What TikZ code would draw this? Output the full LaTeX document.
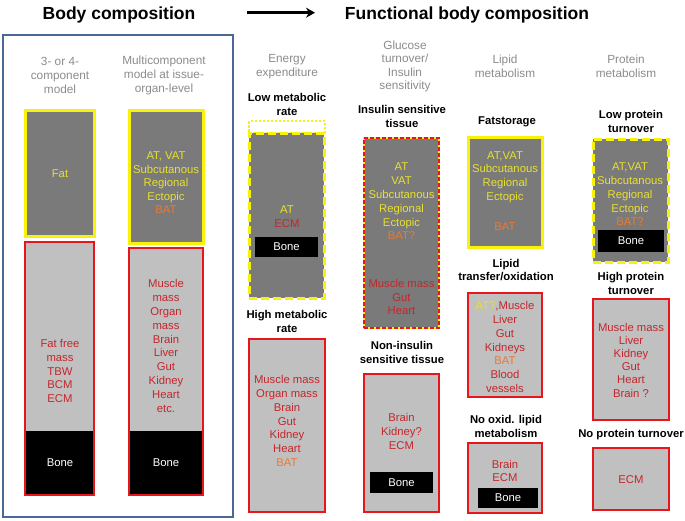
\documentclass[tikz,border=0pt]{standalone}
\usepackage{fontspec}
\setmainfont{Liberation Sans}
\usetikzlibrary{arrows.meta}
\definecolor{yelb}{RGB}{248,242,10}
\definecolor{yelt}{RGB}{232,224,48}
\definecolor{redb}{RGB}{232,22,28}
\definecolor{redt}{RGB}{196,38,44}
\definecolor{orng}{RGB}{232,122,52}
\definecolor{dgray}{RGB}{122,122,122}
\definecolor{lgray}{RGB}{192,192,192}
\definecolor{hgray}{RGB}{140,140,140}
\definecolor{frameblue}{RGB}{74,104,150}
\begin{document}
\begin{tikzpicture}[x=1pt,y=-1pt,
  title/.style={font=\fontsize{17.5}{20}\selectfont\bfseries, inner sep=0},
  gtxt/.style={font=\fontsize{11.8}{13.6}\selectfont, text=hgray, align=center, inner sep=0},
  stxt/.style={font=\fontsize{11.3}{13.2}\selectfont\bfseries, text=black, align=center, inner sep=0},
  btxt/.style={font=\fontsize{11.3}{13.8}\selectfont, align=center, inner sep=0},
  ytxt/.style={btxt, text=yelt},
  rtxt/.style={btxt, text=redt},
  fatbox/.style={draw=yelb, line width=3pt, fill=dgray, inner sep=0},
  fatdash/.style={fatbox, dash pattern=on 8pt off 4pt},
  thindash/.style={draw=yelb, line width=1.5pt, dash pattern=on 2.5pt off 1.5pt, inner sep=0},
  ffmbox/.style={draw=redb, line width=2.6pt, fill=lgray, inner sep=0},
  mixbox/.style={draw=yelb, line width=2.6pt, fill=dgray, inner sep=0,
     postaction={draw=redb, line width=2pt, dash pattern=on 4pt off 2pt}},
  bonebox/.style={fill=black, text=white, font=\fontsize{11.3}{13.8}\selectfont, inner sep=0},
  bonebottom/.style={path picture={\fill[black] (path picture bounding box.south west) rectangle ([yshift=#1]path picture bounding box.south east);}},
  frame/.style={draw=frameblue, line width=1.5pt, inner sep=0}
]
\useasboundingbox[fill=white] (0,0) rectangle (685,520);

% titles
\node[title, anchor=base] (t1) at (119,19) {Body composition};
\node[title, anchor=base] (t2) at (467,19) {Functional body composition};
\coordinate (a1) at (247,12.7);
\coordinate (a2) at (315,12.7);
\draw[line width=2.6pt, -{Stealth[length=9pt,width=10pt]}] (a1) -- (a2);

% frame
\node[frame, minimum width=230pt, minimum height=482pt] (bc) at (118,276) {};

% column 1
\node[gtxt] (h1) at (60,75.5) {3- or 4-\\component\\model};
\node[fatbox, minimum width=69pt, minimum height=126pt] (f1) at (59.5,173) {};
\node[ytxt] (f1t) at (60,174) {Fat};
\node[ffmbox, bonebottom=64pt, minimum width=69pt, minimum height=253pt] (m1) at (59.5,368.5) {};
\node[rtxt] (m1t) at (60,371) {Fat free\\mass\\TBW\\BCM\\ECM};
\node[btxt, text=white] (m1b) at (60,463) {Bone};

% column 2
\node[gtxt] (h2) at (164,75.5) {Multicomponent\\model at issue-\\organ-level};
\node[fatbox, minimum width=74pt, minimum height=133pt] (f2) at (166,176.5) {};
\node[ytxt, font=\fontsize{11.3}{13.5}\selectfont] (f2t) at (166,183) {AT, VAT\\Subcutanous\\Regional\\Ectopic\\\textcolor{orng}{BAT}};
\node[ffmbox, bonebottom=64pt, minimum width=74pt, minimum height=247pt] (m2) at (166,371.5) {};
\node[rtxt, font=\fontsize{11.3}{13.9}\selectfont] (m2t) at (166,346) {Muscle\\mass\\Organ\\mass\\Brain\\Liver\\Gut\\Kidney\\Heart\\etc.};
\node[btxt, text=white] (m2b) at (166,463) {Bone};

% column 3: energy expenditure
\node[gtxt] (h3) at (287,66.5) {Energy\\expenditure};
\node[stxt] (s3a) at (287,104.5) {Low metabolic\\rate};
\node[thindash, minimum width=76pt, minimum height=12pt] (e0) at (287,127) {};
\node[fatdash, minimum width=75pt, minimum height=165pt] (e1) at (286.5,215.5) {};
\node[rtxt] (e1t) at (287,217) {\textcolor{yelt}{AT}\\ECM};
\node[bonebox, minimum width=63pt, minimum height=20pt] (e1b) at (286.5,247) {Bone};
\node[stxt] (s3b) at (287,321.5) {High metabolic\\rate};
\node[ffmbox, minimum width=76pt, minimum height=173pt] (e2) at (287,425.5) {};
\node[rtxt] (e2t) at (287,421) {Muscle mass\\Organ mass\\Brain\\Gut\\Kidney\\Heart\\\textcolor{orng}{BAT}};

% column 4: glucose
\node[gtxt] (h4) at (405,66.5) {Glucose\\turnover/\\Insulin\\sensitivity};
\node[stxt] (s4a) at (402,116.5) {Insulin sensitive\\tissue};
\node[mixbox, minimum width=75pt, minimum height=190pt] (g1) at (401.5,233) {};
\node[ytxt] (g1t) at (401.5,201.5) {AT\\VAT\\Subcutanous\\Regional\\Ectopic\\\textcolor{orng}{BAT?}};
\node[rtxt] (g1r) at (401.5,297) {Muscle mass\\Gut\\Heart};
\node[stxt] (s4b) at (402,352.5) {Non-insulin\\sensitive tissue};
\node[ffmbox, minimum width=75pt, minimum height=138pt] (g2) at (401.5,443) {};
\node[rtxt] (g2t) at (401.5,431.5) {Brain\\Kidney?\\ECM};
\node[bonebox, minimum width=63pt, minimum height=21pt] (g2b) at (401.5,482.5) {Bone};

% column 5: lipid
\node[gtxt] (h5) at (505,66.5) {Lipid\\metabolism};
\node[stxt] (s5a) at (507,122) {Fatstorage};
\node[fatbox, minimum width=74pt, minimum height=110pt] (l1) at (505,192) {};
\node[ytxt] (l1t) at (505,177) {AT,VAT\\Subcutanous\\Regional\\Ectopic};
\node[btxt, text=orng] (l1o) at (505,227) {BAT};
\node[stxt] (s5b) at (506,270) {Lipid\\transfer/oxidation};
\node[ffmbox, minimum width=74pt, minimum height=104pt] (l2) at (505,345) {};
\node[rtxt, font=\fontsize{11.3}{13.7}\selectfont] (l2t) at (505,347) {\textcolor{yelt}{AT?},Muscle\\Liver\\Gut\\Kidneys\\\textcolor{orng}{BAT}\\Blood\\vessels};
\node[stxt] (s5c) at (506,426.5) {No oxid. lipid\\metabolism};
\node[ffmbox, minimum width=74pt, minimum height=70pt] (l3) at (505,478) {};
\node[rtxt] (l3t) at (505,471) {Brain\\ECM};
\node[bonebox, minimum width=60pt, minimum height=20pt] (l3b) at (508,498) {Bone};

% column 6: protein
\node[gtxt] (h6) at (626,66.5) {Protein\\metabolism};
\node[stxt] (s6a) at (631,121.5) {Low protein\\turnover};
\node[fatdash, minimum width=75pt, minimum height=123pt] (p1) at (630.5,200.5) {};
\node[ytxt, font=\fontsize{11.3}{13.75}\selectfont] (p1t) at (630,194.5) {AT,VAT\\Subcutanous\\Regional\\Ectopic\\\textcolor{orng}{BAT?}};
\node[bonebox, minimum width=66pt, minimum height=22pt] (p1b) at (631,241) {Bone};
\node[stxt] (s6b) at (631,283.5) {High protein\\turnover};
\node[ffmbox, minimum width=76pt, minimum height=121pt] (p2) at (631,359.5) {};
\node[rtxt, font=\fontsize{11.3}{13.2}\selectfont] (p2t) at (631,360) {Muscle mass\\Liver\\Kidney\\Gut\\Heart\\Brain ?};
\node[stxt] (s6c) at (631,435) {No protein turnover};
\node[ffmbox, minimum width=76pt, minimum height=62pt] (p3) at (631,479) {};
\node[rtxt] (p3t) at (631,480) {ECM};
\end{tikzpicture}
\end{document}
